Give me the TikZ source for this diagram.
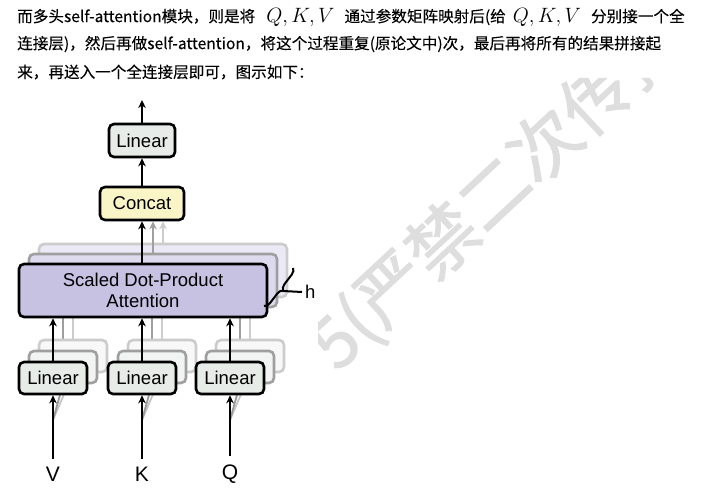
\documentclass[tikz,border=0pt]{standalone}
\usepackage{amsmath}
\usepackage{fontspec}
\setmainfont{Liberation Sans}
\newfontfamily\cjk[FakeBold=0.12]{Noto Sans CJK SC}
\newfontfamily\cjkmark[FakeBold=1.5]{Noto Sans CJK SC}
\usetikzlibrary{calc,arrows.meta,decorations.pathreplacing}

\definecolor{linfill}{RGB}{231,236,233}
\definecolor{catfill}{RGB}{250,245,198}
\definecolor{attfill}{RGB}{199,193,226}
\definecolor{wmark}{RGB}{222,222,222}

\newcommand{\qkv}{{\fontsize{21}{21}\selectfont$Q,K,V$}}

\begin{document}
\begin{tikzpicture}[x=1pt, y=-1pt,
    box/.style={draw, line width=2.6pt, rounded corners=5pt, inner sep=0pt,
      font=\fontsize{18.5}{21}\selectfont},
    lin/.style={box, fill=linfill, minimum width=68pt, minimum height=32pt},
    att/.style={box, fill=attfill, minimum width=248pt, minimum height=53pt, align=center},
    arr/.style={line width=2.6pt, -{Stealth[length=8pt, width=7.5pt, inset=2.5pt]}},
    txt/.style={anchor=west, inner sep=0pt, font=\cjk\fontsize{15.6}{15.6}\selectfont},
    lbl/.style={inner sep=0pt, font=\fontsize{21}{21}\selectfont}]
  \useasboundingbox (0,0) rectangle (706,502);

  % watermark, hidden behind the text and the figure
  \begin{scope}
    \clip (318,78) -- (706,78) -- (706,502) -- (0,502) -- (0,492) -- (318,492) -- cycle;
    \node[wmark, rotate=43, anchor=west, inner sep=0pt,
      font=\cjkmark\fontsize{70}{70}\selectfont] (wm) at (322,357) {5(严禁二次传播)};
  \end{scope}

  % text above the figure
  \node[txt] (line1) at (17,17) {而多头self-attention模块，则是将\hspace{11pt}\qkv\hspace{10pt}通过参数矩阵映射后(给\hspace{7pt}\qkv\hspace{10pt}分别接一个全};
  \node[txt] (line2) at (17,44) {连接层)，然后再做self-attention，将这个过程重复(原论文中)次，最后再将所有的结果拼接起};
  \node[txt] (line3) at (17,72) {来，再送入一个全连接层即可，图示如下：};

  % h copies of the attention
  \node[att, draw=gray!40, fill=attfill!35] (att3) at (163,270.5) {};
  \node[att, draw=gray!75, fill=attfill!60] (att2) at (153,280.5) {};
  \foreach \x/\n in {53/v, 142/k, 230/q} {
    \draw[line width=2.6pt, gray!40] (\x+20,339) -- (\x+20,298);
    \draw[line width=2.6pt, gray!75] (\x+10,350) -- (\x+10,308);
    \node[lin, draw=gray!40, fill=linfill!35] (\n3) at (\x+20,356) {};
    \node[lin, draw=gray!75, fill=linfill!60] (\n2) at (\x+10,367) {};
  }
  \node[att] (att) at (143,290.5) {Scaled Dot-Product\\Attention};

  % inputs
  \node[lbl] (V) at (53,474) {V};
  \node[lbl] (K) at (142,474) {K};
  \node[lbl] (Q) at (230,474) {Q};
  \foreach \x/\n in {53/v, 142/k, 230/q} {
    \coordinate (\n0) at (\x,420);
    \draw[line width=1.8pt, gray!45] (\n0) -- (\n3.south);
    \draw[line width=1.8pt, gray!80] (\n0) -- (\n2.south);
  }
  \node[lin] (v) at (53,378) {Linear};
  \node[lin] (k) at (142,378) {Linear};
  \node[lin] (q) at (230,378) {Linear};
  \foreach \n/\m in {v/V, k/K, q/Q} {
    \draw[arr] ([yshift=8pt]\m.north) -- (\n);
    \draw[arr] (\n) -- (\n |- att.south);
  }

  % output
  \node[box, fill=catfill, minimum width=84pt, minimum height=33pt] (cat) at (142,203.5) {Concat};
  \node[box, fill=linfill, minimum width=66pt, minimum height=33pt] (lout) at (142,140.5) {Linear};
  \coordinate (out) at (142,100);
  \draw[arr, gray!40] (att3.north) -- (att3.north |- cat.south);
  \draw[arr, gray!75] (att2.north) -- (att2.north |- cat.south);
  \draw[arr] (cat |- att.north) -- (cat);
  \draw[arr] (cat) -- (lout);
  \draw[arr] (lout) -- (out);

  % brace for the h heads
  \coordinate (bt) at (293,268);
  \coordinate (bb) at (264,306);
  \coordinate (btip) at (283,291);
  \draw[line width=2pt, decorate, decoration={brace, amplitude=6pt}] (bt) -- (bb);
  \node[lbl, anchor=west, font=\fontsize{18.5}{18.5}\selectfont] (h) at (305,292) {h};
  \draw[line width=2pt] (btip) -- ([xshift=-3pt]h.west);
\end{tikzpicture}
\end{document}
